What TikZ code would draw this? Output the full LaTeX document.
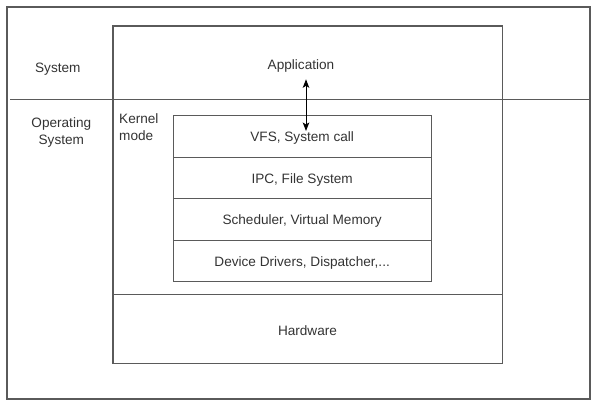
\documentclass[tikz,border=0pt]{standalone}
\usepackage{fontspec}
\setmainfont{Liberation Sans}
\usetikzlibrary{arrows.meta}
\definecolor{linec}{HTML}{5A5A5A}
\definecolor{textc}{HTML}{333333}
\tikzset{
  frame/.style={draw=linec, line width=1.3pt},
  lbl/.style={text=textc, font=\fontsize{13.6}{16.7}\selectfont, inner sep=0pt},
  row/.style={frame, minimum width=258pt, minimum height=41.5pt, anchor=north west, inner sep=0pt},
  rowtext/.style={lbl},
}
\begin{document}
\begin{tikzpicture}[x=1pt,y=-1pt]
\useasboundingbox (0,0) rectangle (596,404);
% outer frame
\draw[frame] (7,7) rectangle (590,399);
% divider between System and Operating System
\draw[frame] (10,99.5) -- (590,99.5);
% main column box
\draw[frame] (113,26) rectangle (502.7,363.5);
\draw[frame] (113,294.5) -- (502.7,294.5);
% labels
\node[lbl] (sys) at (57.8,69.5) {System};
\node[lbl, align=center] (os) at (61.3,132.5) {Operating\\System};
\node[lbl, align=left, anchor=north west] (km) at (119,113.5) {Kernel\\mode};
\node[lbl] (app) at (301,65.5) {Application};
\node[lbl] (hw) at (307.5,330.5) {Hardware};
% kernel stack
\node[row] (r1) at (172.5,115) {};
\node[row] (r2) at (172.5,156.5) {};
\node[row] (r3) at (172.5,198) {};
\node[row] (r4) at (172.5,239.5) {};
\node[rowtext] (t1) at ([yshift=-2pt]r1.center) {VFS, System call};
\node[rowtext] (t2) at ([yshift=-2pt]r2.center) {IPC, File System};
\node[rowtext] (t3) at ([yshift=-2pt]r3.center) {Scheduler, Virtual Memory};
\node[rowtext] (t4) at ([yshift=-2pt]r4.center) {Device Drivers, Dispatcher,...};
% arrow
\coordinate (atop) at (306,79.3);
\coordinate (abot) at (306,131);
\draw[line width=1pt, black, {Stealth[length=8.5pt,width=6.5pt,inset=2pt]}-{Stealth[length=8.5pt,width=6.5pt,inset=2pt]}] (atop) -- (abot);
\end{tikzpicture}
\end{document}
